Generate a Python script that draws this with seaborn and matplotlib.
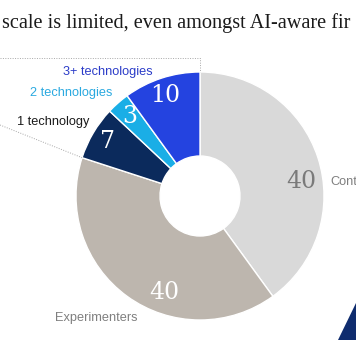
import numpy as np
import matplotlib
matplotlib.use("Agg")
import matplotlib.pyplot as plt
from matplotlib.patches import Polygon
import seaborn as sns

# Share of AI-aware firms by stage of adoption
segments = ["Cont", "Experimenters", "1 technology", "2 technologies", "3+ technologies"]
shares = [40, 40, 7, 3, 10]
title_text = "scale is limited, even amongst AI-aware fir"

sns.set_style("white")
plt.rcParams["font.family"] = ["Liberation Sans", "DejaVu Sans"]

W, H = 356, 340
fig = plt.figure(figsize=(W / 100, H / 100), dpi=100)
ax = fig.add_axes([0, 0, 1, 1])

wedge_colors = ["#d9d9d9", "#bdb6ae", "#0b2a5c", "#1aaee6", "#2443e0"]
cx, cy, R, hole = 200, H - 196, 124, 40

ax.pie(shares, colors=wedge_colors, startangle=90, counterclock=False,
       center=(cx, cy), radius=R,
       wedgeprops=dict(width=R - hole, edgecolor="white", linewidth=1.0))

ax.set_xlim(0, W)
ax.set_ylim(0, H)
ax.set_aspect("equal")
ax.axis("off")

# value labels, placed around each wedge's middle angle (clockwise from top)
angle_shift = [10, -16, 0, 0, -1]
label_radius = [102, 103, 107, 106, 106]
value_colors = ["#7a7a7a", "white", "white", "white", "white"]
bounds = np.concatenate([[0], np.cumsum(shares)]) / sum(shares) * 360
for i, v in enumerate(shares):
    theta = np.deg2rad((bounds[i] + bounds[i + 1]) / 2 + angle_shift[i])
    x = cx + label_radius[i] * np.sin(theta)
    y = cy + label_radius[i] * np.cos(theta)
    ax.text(x, y, str(v), ha="center", va="center", fontsize=17,
            family="DejaVu Serif", color=value_colors[i])

# category labels
name_pos = [(330, 182), (55, 318), (17, 122), (30, 93), (63, 72)]
name_colors = ["#7f7f7f", "#7f7f7f", "#1a1a1a", "#2aa9e0", "#2b3cc8"]
for name, (x, y), c in zip(segments, name_pos, name_colors):
    ax.text(x, H - y, name, ha="left", va="center", fontsize=9.2, color=c)

# callout lines linking the adopter wedges to the previous breakdown
dot = dict(color="#a8a8a8", linestyle=(0, (1, 1.5)), linewidth=0.7)
ax.plot([0, 200, 200], [H - 58, H - 58, H - 72], **dot)
b = np.deg2rad(bounds[2])
ax.plot([0, cx + R * np.sin(b)], [H - 125, cy + R * np.cos(b)], **dot)

# title
ax.text(2, H - 28, title_text, ha="left", va="baseline", fontsize=14.6,
        family="Liberation Serif", color="#1a1a1a")

# corner accent
ax.add_patch(Polygon([(338, 0), (356, 37), (356, 0)], closed=True,
                     facecolor="#0f2c6e", edgecolor="none"))

fig.savefig("out.png", dpi=100)
